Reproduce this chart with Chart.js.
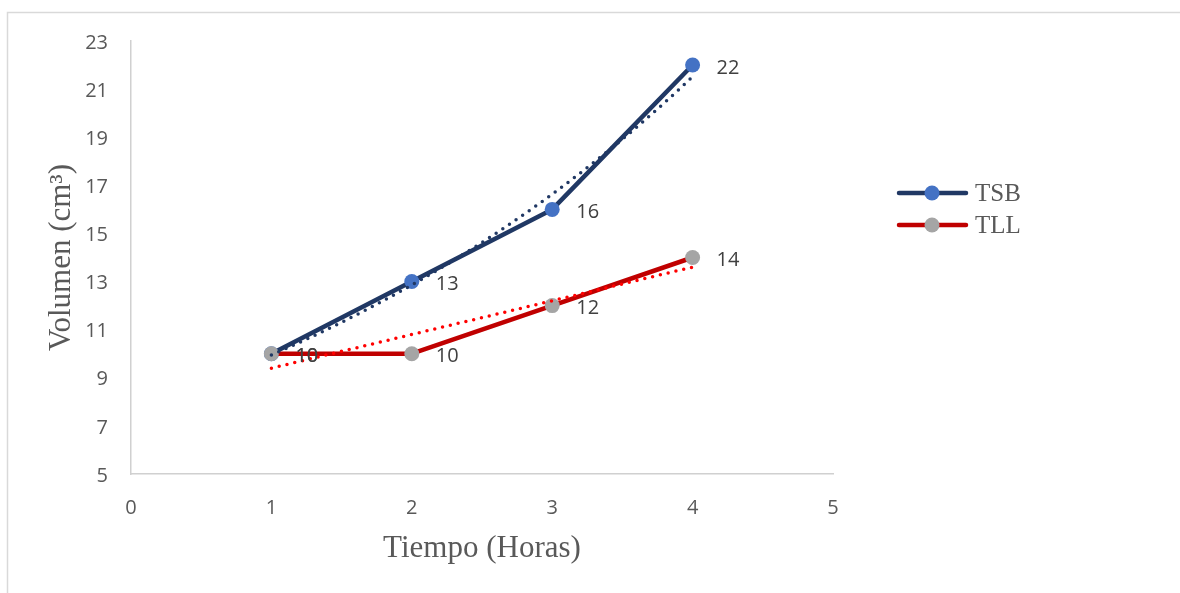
<!DOCTYPE html>
<html>
<head>
<meta charset="utf-8">
<script src="https://cdn.jsdelivr.net/npm/chart.js@4/dist/chart.umd.min.js"></script>
<style>
  html, body { margin: 0; padding: 0; background: #fff; overflow: hidden; }
  #wrap { width: 1180px; height: 593px; position: relative; }
</style>
</head>
<body>
<div id="wrap"><canvas id="c" width="1180" height="593"></canvas></div>
<script>
// Measured volume over time for the two treatments
const hours = [1, 2, 3, 4];
const tsb = [10, 13, 16, 22];
const tll = [10, 10, 12, 14];
const seriesNames = ['TSB', 'TLL'];
const xTickValues = [0, 1, 2, 3, 4, 5];
const yTickValues = [5, 7, 9, 11, 13, 15, 17, 19, 21, 23];
const xTitle = 'Tiempo (Horas)';
const yTitle = 'Volumen (cm³)';

const COLORS = {
  tsbLine: '#203864', tsbPoint: '#4472C4', tsbTrend: '#203864',
  tllLine: '#C00000', tllPoint: '#A5A5A5', tllTrend: '#FF0000',
  tick: '#595959', label: '#404040', frame: '#D9D9D9', axis: '#D0D0D0'
};

// Least-squares fits used for the trend lines
function linearFit(xs, ys) {
  const n = xs.length;
  const mx = xs.reduce((a, b) => a + b, 0) / n;
  const my = ys.reduce((a, b) => a + b, 0) / n;
  let sxy = 0, sxx = 0;
  xs.forEach((x, i) => { sxy += (x - mx) * (ys[i] - my); sxx += (x - mx) * (x - mx); });
  const slope = sxy / sxx;
  return { slope, intercept: my - slope * mx };
}
function expFit(xs, ys) {
  const lf = linearFit(xs, ys.map(Math.log));
  return x => Math.exp(lf.intercept + lf.slope * x);
}
function sampleCurve(fn, x0, x1, steps) {
  const pts = [];
  for (let i = 0; i <= steps; i++) {
    const x = x0 + (x1 - x0) * i / steps;
    pts.push({ x, y: fn(x) });
  }
  return pts;
}
const tsbTrendFn = expFit(hours, tsb);
const tllLin = linearFit(hours, tll);
const tllTrendFn = x => tllLin.intercept + tllLin.slope * x;
const xMin = Math.min(...hours), xMax = Math.max(...hours);

const toPoints = (xs, ys) => xs.map((x, i) => ({ x, y: ys[i] }));

// Chart frame (only top and left edges fall inside the page)
const framePlugin = {
  id: 'frame',
  beforeDraw(chart) {
    const ctx = chart.ctx;
    ctx.save();
    ctx.fillStyle = '#fff';
    ctx.fillRect(0, 0, chart.width, chart.height);
    ctx.strokeStyle = COLORS.frame;
    ctx.lineWidth = 1.5;
    ctx.beginPath();
    ctx.moveTo(7.5, chart.height + 5);
    ctx.lineTo(7.5, 12.5);
    ctx.lineTo(chart.width + 5, 12.5);
    ctx.stroke();
    ctx.restore();
  }
};

// Value labels to the right of each marker
const valueLabels = {
  id: 'valueLabels',
  afterDatasetsDraw(chart) {
    const ctx = chart.ctx;
    ctx.save();
    ctx.font = '20px "Open Sans"';
    ctx.fillStyle = COLORS.label;
    ctx.textAlign = 'left';
    ctx.textBaseline = 'middle';
    chart.data.datasets.forEach((ds, di) => {
      if (!ds.showValues) return;
      const meta = chart.getDatasetMeta(di);
      meta.data.forEach((el, i) => {
        ctx.fillText(String(ds.data[i].y), el.x + 24, el.y + 3);
      });
    });
    ctx.restore();
  }
};

// Legend on the right side
const sideLegend = {
  id: 'sideLegend',
  afterDraw(chart) {
    const ctx = chart.ctx;
    const items = [
      { text: seriesNames[0], line: COLORS.tsbLine, point: COLORS.tsbPoint, y: 193 },
      { text: seriesNames[1], line: COLORS.tllLine, point: COLORS.tllPoint, y: 225 }
    ];
    ctx.save();
    items.forEach(it => {
      ctx.strokeStyle = it.line;
      ctx.lineWidth = 4.5;
      ctx.lineCap = 'round';
      ctx.beginPath();
      ctx.moveTo(899, it.y);
      ctx.lineTo(966, it.y);
      ctx.stroke();
      ctx.fillStyle = it.point;
      ctx.beginPath();
      ctx.arc(932, it.y, 7.5, 0, Math.PI * 2);
      ctx.fill();
      ctx.fillStyle = COLORS.tick;
      ctx.font = '25px "Liberation Serif"';
      ctx.textAlign = 'left';
      ctx.textBaseline = 'middle';
      ctx.fillText(it.text, 975, it.y + 1);
    });
    ctx.restore();
  }
};

const dotted = { borderWidth: 3.5, borderDash: [0, 8], borderCapStyle: 'round', pointRadius: 0, pointHoverRadius: 0, showLine: true, fill: false };

new Chart(document.getElementById('c'), {
  type: 'scatter',
  data: {
    datasets: [
      Object.assign({ label: seriesNames[0] + ' tendencia', data: sampleCurve(tsbTrendFn, xMin, xMax, 60), borderColor: COLORS.tsbTrend }, dotted),
      Object.assign({ label: seriesNames[1] + ' tendencia', data: sampleCurve(tllTrendFn, xMin, xMax, 60), borderColor: COLORS.tllTrend }, dotted),
      {
        label: seriesNames[1], data: toPoints(hours, tll), showLine: true, showValues: true,
        borderColor: COLORS.tllLine, borderWidth: 4.5, borderCapStyle: 'round', borderJoinStyle: 'round',
        pointRadius: 7.5, pointHoverRadius: 7.5, pointBorderWidth: 0, pointBackgroundColor: COLORS.tllPoint
      },
      {
        label: seriesNames[0], data: toPoints(hours, tsb), showLine: true, showValues: true,
        borderColor: COLORS.tsbLine, borderWidth: 4.5, borderCapStyle: 'round', borderJoinStyle: 'round',
        pointRadius: 7.5, pointHoverRadius: 7.5, pointBorderWidth: 0, pointBackgroundColor: COLORS.tsbPoint
      }
    ]
  },
  options: {
    responsive: false,
    animation: false,
    devicePixelRatio: 1,
    events: [],
    layout: { padding: { left: 0, top: 41, right: 347, bottom: 0 } },
    plugins: { legend: { display: false }, tooltip: { enabled: false } },
    scales: {
      x: {
        type: 'linear', min: xTickValues[0], max: xTickValues[xTickValues.length - 1],
        afterBuildTicks: s => { s.ticks = xTickValues.map(v => ({ value: v })); },
        afterFit: s => { s.height = 119; },
        grid: { display: false, drawTicks: false, tickLength: 0 },
        border: { display: true, color: COLORS.axis, width: 1.5 },
        ticks: { color: COLORS.tick, font: { family: 'Open Sans', size: 20 }, padding: 22, maxRotation: 0 },
        title: { display: true, text: xTitle, color: COLORS.tick, font: { family: 'Liberation Serif', size: 31 }, padding: { top: 0, bottom: 26 } }
      },
      y: {
        type: 'linear', min: yTickValues[0], max: yTickValues[yTickValues.length - 1],
        afterBuildTicks: s => { s.ticks = yTickValues.map(v => ({ value: v })); },
        afterFit: s => { s.width = 131; },
        grid: { display: false, drawTicks: false, tickLength: 0 },
        border: { display: true, color: COLORS.axis, width: 1.5 },
        ticks: { color: COLORS.tick, font: { family: 'Open Sans', size: 20 }, padding: 23, labelOffset: 2 },
        title: { display: true, text: yTitle, color: COLORS.tick, font: { family: 'Liberation Serif', size: 31 }, padding: { top: 43, bottom: 0 } }
      }
    }
  },
  plugins: [framePlugin, valueLabels, sideLegend]
});
</script>
</body>
</html>
